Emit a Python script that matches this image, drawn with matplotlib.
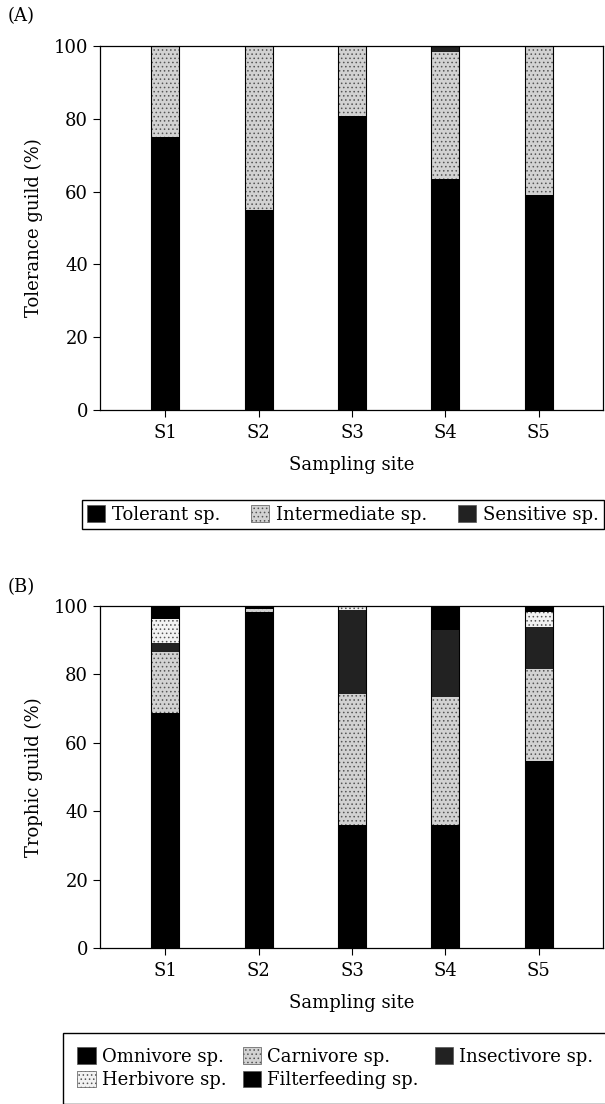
import matplotlib
matplotlib.use('Agg')
import matplotlib.pyplot as plt
import numpy as np
from matplotlib.patches import Patch

plt.rcParams['font.family'] = ['DejaVu Serif']
plt.rcParams['hatch.linewidth'] = 0.6

sites = ['S1', 'S2', 'S3', 'S4', 'S5']

# (A) tolerance guild, %
tolerant     = [75.0, 55.0, 80.9, 63.5, 59.2]
intermediate = [25.0, 45.0, 19.1, 34.9, 40.8]
sensitive    = [0.0, 0.0, 0.0, 1.6, 0.0]

# (B) trophic guild, %
omnivore      = [68.6, 98.3, 36.0, 36.0, 54.6]
carnivore     = [18.0, 0.9, 38.3, 37.5, 27.1]
insectivore   = [2.7, 0.0, 24.5, 19.4, 12.2]
herbivore     = [7.0, 0.0, 0.9, 0.0, 4.2]
filterfeeding = [3.7, 0.8, 0.3, 7.1, 1.9]

W, H = 605, 1104
FS = 13

styles = {
    'black':  dict(facecolor='black', hatch=None),
    'gray':   dict(facecolor='#d2d2d2', hatch='....'),
    'dark':   dict(facecolor='#222222', hatch=None),
    'light':  dict(facecolor='#f2f2f2', hatch='....'),
}


def stacked(ax, series):
    x = np.arange(1, len(sites) + 1)
    bottom = np.zeros(len(sites))
    handles = []
    for vals, label, st in series:
        s = styles[st]
        ax.bar(x, vals, 0.3, bottom=bottom, color=s['facecolor'],
               hatch=s['hatch'], edgecolor='#555555', linewidth=0)
        bottom += np.array(vals)
        handles.append(Patch(facecolor=s['facecolor'], hatch=s['hatch'],
                             edgecolor='#555555', linewidth=0.5, label=label))
    ax.bar(x, bottom, 0.3, fill=False, edgecolor='black', linewidth=0.8)
    ax.set_xlim(0.3, 5.69)
    ax.set_ylim(0, 100)
    ax.set_xticks(x)
    ax.set_xticklabels(sites, fontsize=FS)
    ax.set_yticks([0, 20, 40, 60, 80, 100])
    ax.tick_params(axis='y', labelsize=FS, direction='out', length=5, width=0.8)
    ax.tick_params(axis='x', direction='out', length=5, width=0.8, pad=5)
    for sp in ax.spines.values():
        sp.set_linewidth(0.9)
    ax.set_xlabel('Sampling site', fontsize=FS, labelpad=10)
    return handles


fig = plt.figure(figsize=(W / 100, H / 100), dpi=100)

ax_a = fig.add_axes([100 / W, 1 - 410 / H, 503 / W, 364 / H])
h_a = stacked(ax_a, [(tolerant, 'Tolerant sp.', 'black'),
                     (intermediate, 'Intermediate sp.', 'gray'),
                     (sensitive, 'Sensitive sp.', 'dark')])
ax_a.set_ylabel('Tolerance guild (%)', fontsize=FS, labelpad=8)
fig.text(8 / W, 1 - 16 / H, '(A)', fontsize=FS, va='center', ha='left')
fig.legend(handles=h_a, ncol=3, loc='center',
           bbox_to_anchor=(82 / W, 1 - 533 / H, 522 / W, 37 / H),
           mode='expand', fancybox=False, edgecolor='black', framealpha=1,
           fontsize=FS, handlelength=1.0, handleheight=1.0,
           handletextpad=0.35, columnspacing=0.8, borderaxespad=0,
           borderpad=0.3)

ax_b = fig.add_axes([100 / W, 1 - 948 / H, 503 / W, 342 / H])
h_b = stacked(ax_b, [(omnivore, 'Omnivore sp.', 'black'),
                     (carnivore, 'Carnivore sp.', 'gray'),
                     (insectivore, 'Insectivore sp.', 'dark'),
                     (herbivore, 'Herbivore sp.', 'light'),
                     (filterfeeding, 'Filterfeeding sp.', 'black')])
ax_b.set_ylabel('Trophic guild (%)', fontsize=FS, labelpad=8)
fig.text(8 / W, 1 - 587 / H, '(B)', fontsize=FS, va='center', ha='left')
order = [0, 3, 1, 4, 2]
fig.legend(handles=[h_b[i] for i in order], ncol=3, loc='upper left',
           bbox_to_anchor=(63 / W, 1 - 1033 / H),
           fancybox=False, edgecolor='black', framealpha=1,
           fontsize=FS, handlelength=1.0, handleheight=1.0,
           handletextpad=0.35, columnspacing=0.9, borderaxespad=0,
           borderpad=0.8, labelspacing=0.3)

fig.savefig('out.png', dpi=100)
